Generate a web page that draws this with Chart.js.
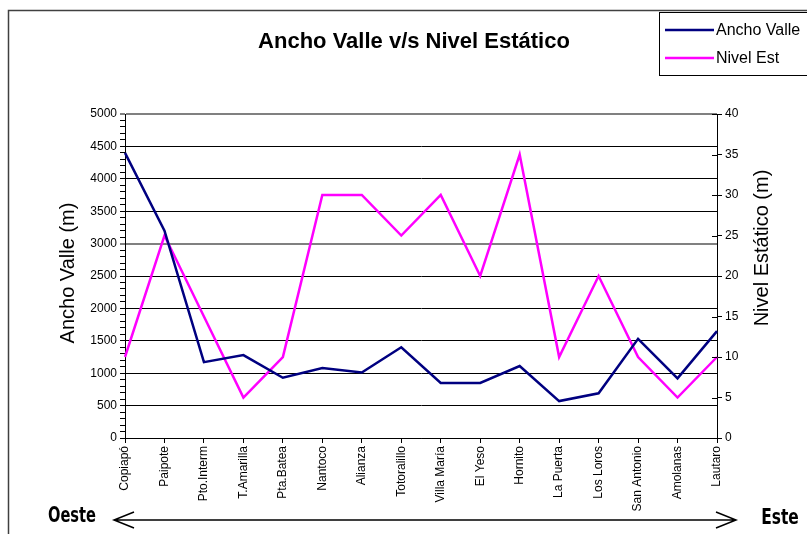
<!DOCTYPE html>
<html>
<head>
<meta charset="utf-8">
<script src="https://cdn.jsdelivr.net/npm/chart.js@4"></script>
<style>
  body { margin: 0; background: #fff; }
  #wrap { width: 807px; height: 534px; position: relative; }
</style>
</head>
<body>
<div id="wrap"><canvas id="valleChart"></canvas></div>
<script>
const localidades = ["Copiapó", "Paipote", "Pto.Interm", "T.Amarilla", "Pta.Batea", "Nantoco",
    "Alianza", "Totoralillo", "Villa María", "El Yeso", "Hornito", "La Puerta",
    "Los Loros", "San Antonio", "Amolanas", "Lautaro"];
const anchoValle = [4400, 3200, 1170, 1280, 930, 1080, 1010, 1400, 850, 850, 1110, 570, 690, 1530, 920, 1650];
const nivelEstatico = [10, 25, 15, 5, 10, 30, 30, 25, 30, 20, 35, 10, 20, 10, 5, 10];
const tituloGrafico = "Ancho Valle v/s Nivel Estático";
const tituloIzq = "Ancho Valle (m)";
const tituloDer = "Nivel Estático (m)";
const leyenda = ["Ancho Valle", "Nivel Est"];
const direcciones = ["Oeste", "Este"];

const fuente = "'Liberation Sans', Arial, sans-serif";

// textos, marco, leyenda y flecha dibujados a mano
const marcoPlugin = {
    id: "marco",
    afterDraw(chart) {
        const ctx = chart.ctx;
        const area = chart.chartArea;
        ctx.save();

        // marco exterior
        ctx.strokeStyle = "#404040";
        ctx.lineWidth = 1.5;
        ctx.strokeRect(8.5, 10.5, 900, 600);

        // titulo
        ctx.fillStyle = "#000";
        ctx.font = "bold 22px " + fuente;
        ctx.textAlign = "center";
        ctx.textBaseline = "middle";
        ctx.fillText(tituloGrafico, 414, 42);

        // titulos de ejes
        ctx.font = "20px " + fuente;
        ctx.save();
        ctx.translate(68, 273);
        ctx.rotate(-Math.PI / 2);
        ctx.fillText(tituloIzq, 0, 0);
        ctx.restore();
        ctx.save();
        ctx.translate(762, 248);
        ctx.rotate(-Math.PI / 2);
        ctx.fillText(tituloDer, 0, 0);
        ctx.restore();

        // marcas interiores del eje derecho
        const y1 = chart.scales.y1;
        ctx.strokeStyle = "#000";
        ctx.lineWidth = 1;
        y1.ticks.forEach(t => {
            const py = Math.round(y1.getPixelForValue(t.value)) + 0.5;
            ctx.beginPath();
            ctx.moveTo(area.right - 5, py);
            ctx.lineTo(area.right, py);
            ctx.stroke();
        });

        // leyenda
        ctx.fillStyle = "#fff";
        ctx.fillRect(659.5, 12.5, 200, 63);
        ctx.strokeStyle = "#000";
        ctx.strokeRect(659.5, 12.5, 200, 63);
        ctx.font = "16px " + fuente;
        ctx.textAlign = "left";
        const filas = [30, 58];
        chart.data.datasets.forEach((ds, i) => {
            ctx.strokeStyle = ds.borderColor;
            ctx.lineWidth = 2.5;
            ctx.beginPath();
            ctx.moveTo(665, filas[i]);
            ctx.lineTo(714, filas[i]);
            ctx.stroke();
            ctx.fillStyle = "#000";
            ctx.fillText(leyenda[i], 716, filas[i] + 1);
        });

        // flecha oeste - este
        ctx.strokeStyle = "#000";
        ctx.lineWidth = 1.5;
        const fy = 520;
        ctx.beginPath();
        ctx.moveTo(114, fy);
        ctx.lineTo(736, fy);
        ctx.moveTo(134, fy - 8);
        ctx.lineTo(114, fy);
        ctx.lineTo(134, fy + 8);
        ctx.moveTo(716, fy - 8);
        ctx.lineTo(736, fy);
        ctx.lineTo(716, fy + 8);
        ctx.stroke();

        ctx.font = "bold 22px 'Liberation Sans Narrow', 'DejaVu Sans Condensed', sans-serif";
        ctx.textAlign = "center";
        ctx.save();
        ctx.translate(72, 516);
        ctx.scale(0.74, 1);
        ctx.fillText(direcciones[0], 0, 0);
        ctx.restore();
        ctx.save();
        ctx.translate(780, 518);
        ctx.scale(0.78, 1);
        ctx.fillText(direcciones[1], 0, 0);
        ctx.restore();

        ctx.restore();
    }
};

const ctx = document.getElementById("valleChart").getContext("2d");
new Chart(ctx, {
    type: "line",
    data: {
        labels: localidades,
        datasets: [{
            label: leyenda[0],
            data: anchoValle,
            borderColor: "#000080",
            backgroundColor: "#000080",
            borderWidth: 2.5,
            pointRadius: 0,
            tension: 0,
            yAxisID: "y"
        }, {
            label: leyenda[1],
            data: nivelEstatico,
            borderColor: "#ff00ff",
            backgroundColor: "#ff00ff",
            borderWidth: 2.5,
            pointRadius: 0,
            tension: 0,
            yAxisID: "y1"
        }]
    },
    options: {
        responsive: true,
        maintainAspectRatio: false,
        animation: false,
        layout: { padding: { top: 114, left: 0, right: 0, bottom: 0 } },
        plugins: {
            legend: { display: false },
            tooltip: { enabled: false }
        },
        scales: {
            x: {
                offset: false,
                afterFit: s => { s.height = 96; },
                grid: { drawOnChartArea: false, color: "#000", tickLength: 5 },
                border: { color: "#000", width: 1 },
                ticks: {
                    color: "#000",
                    font: { family: fuente, size: 12 },
                    minRotation: 90,
                    maxRotation: 90,
                    autoSkip: false,
                    padding: 3
                }
            },
            y: {
                position: "left",
                min: 0,
                max: 5000,
                afterFit: s => { s.width = 125; },
                grid: {
                    color: c => {
                        const v = c.tick.value;
                        if (v % 500 !== 0) return "rgba(0,0,0,0)";
                        return (v === 3000 || v === 5000) ? "#808080" : "#000";
                    },
                    lineWidth: c => (c.tick.value === 5000 || c.tick.value === 3000) ? 2 : 1,
                    tickColor: "#000",
                    tickWidth: 1,
                    tickLength: 5
                },
                border: { color: "#000", width: 1 },
                ticks: {
                    stepSize: 100,
                    maxTicksLimit: 100,
                    autoSkip: false,
                    color: "#000",
                    font: { family: fuente, size: 12 },
                    padding: 3,
                    callback: v => v % 500 === 0 ? v : ""
                }
            },
            y1: {
                position: "right",
                min: 0,
                max: 40,
                afterFit: s => { s.width = 90; },
                grid: { drawOnChartArea: false, color: "#000", tickLength: 5 },
                border: { color: "#000", width: 1 },
                ticks: {
                    stepSize: 5,
                    color: "#000",
                    font: { family: fuente, size: 12 },
                    padding: 3
                }
            }
        }
    },
    plugins: [marcoPlugin]
});
</script>
</body>
</html>
